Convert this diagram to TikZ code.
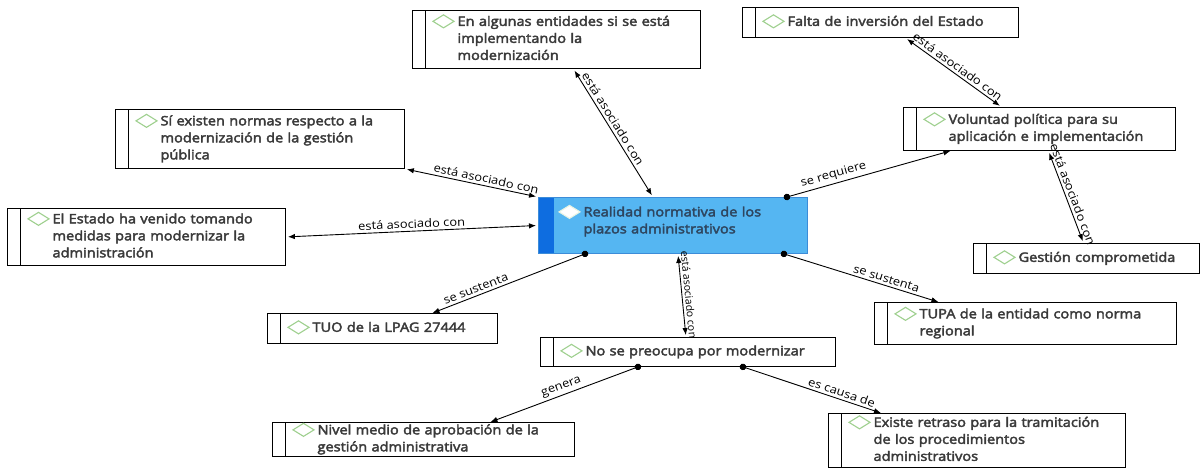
\documentclass[tikz,border=0pt]{standalone}
\usepackage{fontspec}
\setmainfont{Open Sans}
\newfontfamily\boxfont{Open Sans}[FakeStretch=1.12,FakeBold=3]
\newfontfamily\notefont{Open Sans}[FakeStretch=1.12]
\newfontfamily\notefontplain{Open Sans}
\usetikzlibrary{arrows.meta, calc}
\definecolor{cgem}{HTML}{9FD08F}
\definecolor{ctext}{HTML}{3A3A3A}
\definecolor{chub}{HTML}{55B6F2}
\definecolor{chubdark}{HTML}{0E6DE0}
\definecolor{chubline}{HTML}{3C8CD8}
\definecolor{chubtext}{HTML}{2E4660}
\newcommand{\gem}[1]{\tikz[baseline=-4.5pt]\draw[#1, line width=1.1pt] (0pt,0pt) -- (10.5pt,6.5pt) -- (21pt,0pt) -- (10.5pt,-6.5pt) -- cycle;}
\newcommand{\entry}[2][cgem]{\hspace*{20pt}\gem{#1}\hspace{3pt}\begin{tabular}[t]{@{}l@{}}#2\end{tabular}}
\tikzset{
  box/.style={draw=black, line width=0.9pt, fill=white, anchor=north west, inner sep=0pt, align=left,
    font=\boxfont\fontsize{13}{17}\selectfont, text=ctext,
    path picture={\draw[line width=0.9pt] ([xshift=13pt]path picture bounding box.south west) -- ([xshift=13pt]path picture bounding box.north west);}},
  hub/.style={draw=chubline, line width=0.9pt, fill=chub, anchor=north west, inner sep=0pt, align=left,
    font=\boxfont\fontsize{13}{17}\selectfont, text=chubtext,
    path picture={\fill[chubdark] (path picture bounding box.south west) rectangle ([xshift=16pt]path picture bounding box.north west);}},
  arrow/.style={{Latex[length=7pt,width=5.5pt]}-{Latex[length=7pt,width=5.5pt]}, line width=0.9pt, shorten <=2pt, shorten >=2pt},
  lead/.style={{Circle[length=6.5pt]}-{Latex[length=7pt,width=5.5pt]}, line width=0.9pt, shorten <=-3.25pt},
  note/.style={font=\notefont\fontsize{11.5}{13}\selectfont, sloped, above, inner sep=2.5pt},
}
\begin{document}
\begin{tikzpicture}[x=1pt, y=-1pt]
  \useasboundingbox (0,0) rectangle (1201,469);
  % boxes
  \node[hub, text width=269pt, minimum height=56pt, text depth=30pt] (cen) at (538,197) {\entry[draw=cgem!25, fill=white]{Realidad normativa de los\\plazos administrativos}};
  \node[box, text width=288pt, minimum height=58pt] (alg) at (412,10) {\entry{En algunas entidades si se está\\implementando la\\modernización}};
  \node[box, text width=276pt, minimum height=30pt] (fal) at (742,7) {\entry{Falta de inversión del Estado}};
  \node[box, text width=272pt, minimum height=43pt] (vol) at (903,107) {\entry{Voluntad política para su\\aplicación e implementación}};
  \node[box, text width=289pt, minimum height=59pt] (sie) at (115,109) {\entry{Sí existen normas respecto a la\\modernización de la gestión\\pública}};
  \node[box, text width=278pt, minimum height=57pt] (est) at (7,208) {\entry{El Estado ha venido tomando\\medidas para modernizar la\\administración}};
  \node[box, text width=230pt, minimum height=30pt] (tuo) at (267,313) {\entry{TUO de la LPAG 27444}};
  \node[box, text width=302pt, minimum height=42pt] (tupa) at (874,302) {\entry{TUPA de la entidad como norma\\regional}};
  \node[box, text width=226pt, minimum height=30pt] (ges) at (973,243) {\entry{Gestión comprometida}};
  \node[box, text width=295pt, minimum height=29pt] (nop) at (540,337) {\entry{No se preocupa por modernizar}};
  \node[box, text width=302pt, minimum height=33pt] (niv) at (272,422) {\entry{Nivel medio de aprobación de la\\gestión administrativa}};
  \node[box, text width=297pt, minimum height=54pt] (exi) at (828,413) {\entry{Existe retraso para la tramitación\\de los procedimientos\\administrativos}};
  % links
  \draw[arrow] ([xshift=17pt]alg.south) -- node[note, pos=0.42] {está asociado con} ([xshift=-20pt]cen.north);
  \draw[arrow] (sie.south east) -- node[note, pos=0.6] {está asociado con} (cen.north west);
  \draw[arrow] (est.east) -- node[note] {está asociado con} (cen.west);
  \draw[lead] ([xshift=-21pt]cen.north east) -- node[note, pos=0.3] {se requiere} ([xshift=-89pt]vol.south);
  \draw[arrow] ([xshift=25pt]fal.south) -- node[note] {está asociado con} ([xshift=-38pt]vol.north);
  \draw[arrow] ([xshift=9pt]vol.south) -- node[note] {está asociado con} ([xshift=-3pt]ges.north);
  \draw[lead] ([xshift=-24pt]cen.south east) -- node[note, pos=0.65] {se sustenta} ([xshift=-87pt]tupa.north);
  \draw[lead] ([xshift=47pt]cen.south west) -- node[note, pos=0.7] {se sustenta} ([xshift=50pt]tuo.north);
  \draw[arrow] ([xshift=5pt]cen.south) -- node[note, pos=0.5, font=\notefontplain\fontsize{10.5}{12}\selectfont] {está asociado con} ([xshift=-2pt]nop.north);
  \draw[lead] ([xshift=-50pt]nop.south) -- node[note] {genera} ([xshift=67pt]niv.north);
  \draw[lead] ([xshift=55pt]nop.south) -- node[note, pos=0.7] {es causa de} ([xshift=-96pt]exi.north);
\end{tikzpicture}
\end{document}
